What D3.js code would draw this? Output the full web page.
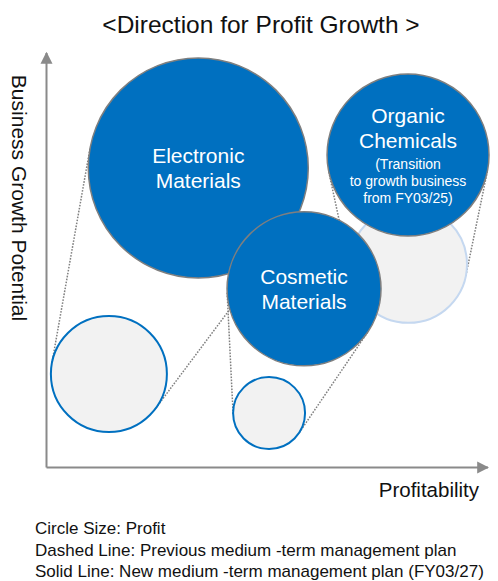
<!DOCTYPE html>
<html>
<head>
<meta charset="utf-8">
<script src="https://cdn.jsdelivr.net/npm/d3@7"></script>
<style>
  body { margin: 0; background: #fff; }
  text { font-family: "Liberation Sans", Arial, sans-serif; }
</style>
</head>
<body>
<div id="chart-area"></div>
<script>
// segments and their position (0-10 scale) / profit size
var segments = ["Electronic Materials", "Cosmetic Materials", "Organic Chemicals"];
var labelLines = [["Electronic", "Materials"], ["Cosmetic", "Materials"], ["Organic", "Chemicals"]];
var noteLines = [[], [], ["(Transition", "to growth business", "from FY03/25)"]];

// previous medium-term plan (dashed)
var prevProfitability = [1.41, 5.03, 8.18];
var prevGrowth        = [2.25, 1.31, 4.89];
var prevProfit        = [27.8, 10.7, 28.3];

// new medium-term plan FY03/27 (solid)
var newProfitability = [3.43, 5.82, 8.17];
var newGrowth        = [7.21, 4.30, 7.52];
var newProfit        = [100, 49, 54.2];

var title = "<Direction for Profit Growth >";
var xLabel = "Profitability";
var yLabel = "Business Growth Potential";
var legendLines = [
    "Circle Size: Profit",
    "Dashed Line: Previous medium -term management plan",
    "Solid Line: New medium -term management plan (FY03/27)"
];

var width = 498, height = 581;

var svg = d3.select("#chart-area").append("svg")
    .attr("width", width)
    .attr("height", height);

var x = d3.scaleLinear().domain([0, 10]).range([46.5, 489]);
var y = d3.scaleLinear().domain([0, 10]).range([467.5, 52]);
var r = d3.scaleSqrt().domain([0, 100]).range([0, 110]);

var blue = "#0070c0", gray = "#8a8a8a";

var prev = segments.map(function(d, i) {
    return {name: d, cx: x(prevProfitability[i]), cy: y(prevGrowth[i]), r: r(prevProfit[i])};
});
var next = segments.map(function(d, i) {
    return {name: d, cx: x(newProfitability[i]), cy: y(newGrowth[i]), r: r(newProfit[i]),
        lines: labelLines[i], notes: noteLines[i]};
});

// title
svg.append("text")
    .attr("x", 261).attr("y", 33)
    .attr("text-anchor", "middle")
    .style("font-size", "24.5px")
    .style("fill", "#111")
    .text(title);

// axes with arrow heads
svg.append("defs").append("marker")
    .attr("id", "arrow")
    .attr("viewBox", "0 0 10 10")
    .attr("refX", 9).attr("refY", 5)
    .attr("markerUnits", "userSpaceOnUse")
    .attr("markerWidth", 12).attr("markerHeight", 16)
    .attr("orient", "auto")
    .append("path")
    .attr("d", "M0,0L10,5L0,10Z")
    .style("fill", gray);

svg.append("path")
    .attr("d", "M" + x(0) + "," + y(0) + "L" + x(0) + "," + (y.range()[1] + 1))
    .style("stroke", gray).style("stroke-width", 2).style("fill", "none")
    .attr("marker-end", "url(#arrow)");
svg.append("path")
    .attr("d", "M" + x(0) + "," + y(0) + "L" + (x.range()[1] - 1) + "," + y(0))
    .style("stroke", gray).style("stroke-width", 2).style("fill", "none")
    .attr("marker-end", "url(#arrow)");

svg.append("text")
    .attr("transform", "translate(12," + 198 + ") rotate(90)")
    .attr("text-anchor", "middle")
    .style("font-size", "21px")
    .style("fill", "#111")
    .text(yLabel);

svg.append("text")
    .attr("x", 479).attr("y", 497)
    .attr("text-anchor", "end")
    .style("font-size", "20.5px")
    .style("fill", "#111")
    .text(xLabel);

// outer tangent lines between old and new circle
function tangents(a, b) {
    var dx = b.cx - a.cx, dy = b.cy - a.cy;
    var d = Math.sqrt(dx * dx + dy * dy);
    var th = Math.atan2(dy, dx);
    var al = Math.acos((a.r - b.r) / d);
    return [th + al, th - al].map(function(p) {
        return [[a.cx + a.r * Math.cos(p), a.cy + a.r * Math.sin(p)],
                [b.cx + b.r * Math.cos(p), b.cy + b.r * Math.sin(p)]];
    });
}
var links = [];
next.forEach(function(d, i) { links = links.concat(tangents(d, prev[i])); });

svg.append("g").selectAll("line")
    .data(links).enter().append("line")
    .attr("x1", function(d) { return d[0][0]; })
    .attr("y1", function(d) { return d[0][1]; })
    .attr("x2", function(d) { return d[1][0]; })
    .attr("y2", function(d) { return d[1][1]; })
    .style("stroke", "#808080")
    .style("stroke-width", 1.5)
    .style("stroke-dasharray", "1.6 1.4");

// previous circles
svg.append("g").selectAll("circle")
    .data(prev).enter().append("circle")
    .attr("cx", function(d) { return d.cx; })
    .attr("cy", function(d) { return d.cy; })
    .attr("r", function(d) { return d.r; })
    .style("fill", "#f2f2f2")
    .style("stroke", function(d, i) { return i == 2 ? "#c5d8f0" : blue; })
    .style("stroke-width", 2);

// new circles
var g = svg.append("g").selectAll("g")
    .data(next).enter().append("g");

g.append("circle")
    .attr("cx", function(d) { return d.cx; })
    .attr("cy", function(d) { return d.cy; })
    .attr("r", function(d) { return d.r; })
    .style("fill", blue)
    .style("stroke", "#7f7f7f")
    .style("stroke-width", 1.5);

g.each(function(d) {
    var rows = d.lines.map(function(t) { return {t: t, s: 21}; })
        .concat(d.notes.map(function(t) { return {t: t, s: 14}; }));
    var yy = 0;
    rows.forEach(function(row, i) {
        if (i > 0) yy += 0.6 * rows[i - 1].s + 0.6 * row.s;
        row.y = yy;
    });
    var shift = d.cy - (rows[0].y - 0.72 * rows[0].s + yy) / 2;
    d3.select(this).selectAll("text")
        .data(rows).enter().append("text")
        .attr("x", d.cx)
        .attr("y", function(row) { return row.y + shift; })
        .attr("text-anchor", "middle")
        .style("font-size", function(row) { return row.s + "px"; })
        .style("fill", "#fff")
        .text(function(row) { return row.t; });
});

// legend
svg.append("g").selectAll("text")
    .data(legendLines).enter().append("text")
    .attr("x", 35)
    .attr("y", function(d, i) { return 534 + i * 21.5; })
    .style("font-size", "17px")
    .style("fill", "#111")
    .text(function(d) { return d; });
</script>
</body>
</html>
